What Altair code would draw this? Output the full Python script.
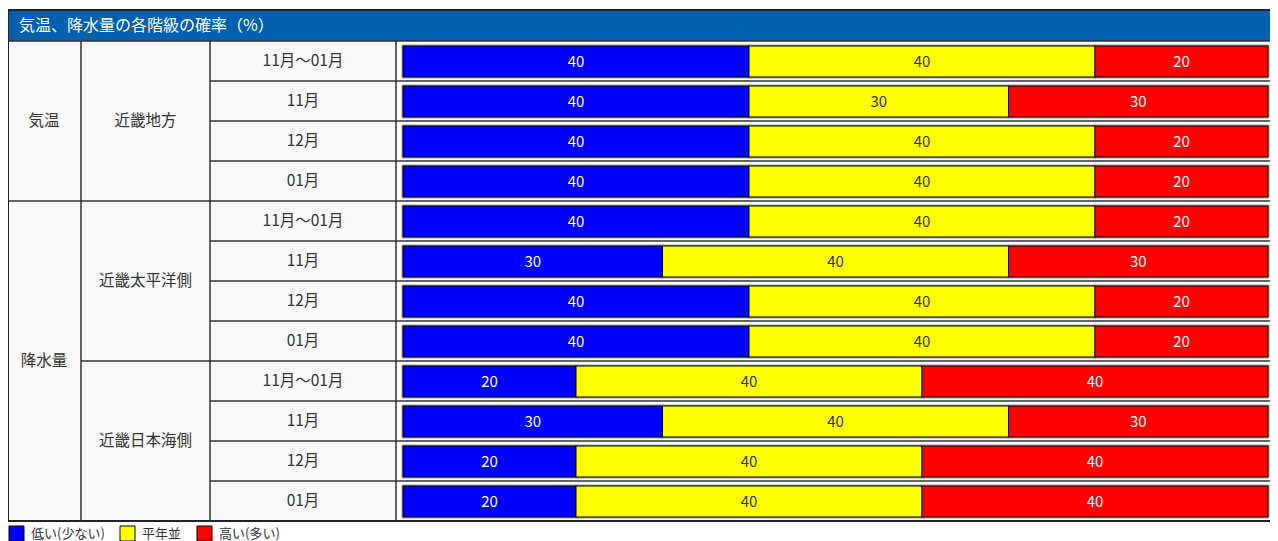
import altair as alt
import pandas as pd

# ---------------- data ----------------
title_text = "気温、降水量の各階級の確率（%）"
elements = ["気温", "降水量"]
element_rows = [4, 8]
regions = ["近畿地方", "近畿太平洋側", "近畿日本海側"]
periods = ["11月～01月", "11月", "12月", "01月"]
classes = ["低い(少ない)", "平年並", "高い(多い)"]
class_colors = ["#0000FF", "#FFFF00", "#FF0000"]
low = [40, 40, 40, 40, 40, 30, 40, 40, 20, 30, 20, 20]
normal = [40, 30, 40, 40, 40, 40, 40, 40, 40, 40, 40, 40]
high = [20, 30, 20, 20, 20, 30, 20, 20, 40, 30, 40, 40]

# ---------------- layout (pixel helpers) ----------------
BAR_X0 = 403
BAR_X1 = 1268
PX_PER_PCT = (BAR_X1 - BAR_X0) / 100
ROW_TOP = 41
ROW_H = 40
W, H = 1262, 533


def xv(px):
    return (px - BAR_X0) / PX_PER_PCT


def yv(py):
    return (py - ROW_TOP) / ROW_H


XS = alt.Scale(domain=[xv(8), xv(8 + W)], zero=False, nice=False)
YS = alt.Scale(domain=[yv(8), yv(8 + H)], zero=False, nice=False, reverse=True)
FONT = "Noto Sans CJK JP"
N = len(low)
XR = xv(8 + W)


def X(f):
    return alt.X(f, type="quantitative", scale=XS, axis=None)


def Y(f):
    return alt.Y(f, type="quantitative", scale=YS, axis=None)


# ---------------- bars ----------------
rows = []
for i in range(N):
    vals = [low[i], normal[i], high[i]]
    s = 0
    for k, v in enumerate(vals):
        rows.append(dict(row=i, cls=classes[k], start=s, end=s + v, mid=s + v / 2,
                         value=str(v), y=i + 0.125, y2=i + 0.9, ym=i + 0.52,
                         tcolor="#333333" if k == 1 else "#ffffff"))
        s += v
bars = pd.DataFrame(rows)
color = alt.Color("cls:N", scale=alt.Scale(domain=classes, range=class_colors), legend=None)

shadow = alt.Chart(bars).mark_rect(stroke="#a0a0a0", strokeWidth=3, fill="#a0a0a0").encode(
    x=X("start"), x2="end", y=Y("y"), y2="y2")
bar = alt.Chart(bars).mark_rect(stroke="#000000", strokeWidth=1).encode(
    x=X("start"), x2="end", y=Y("y"), y2="y2", color=color)
bar_text = alt.Chart(bars).mark_text(font=FONT, fontSize=15, align="center", baseline="middle").encode(
    x=X("mid"), y=Y("ym"), text="value:N", color=alt.Color("tcolor:N", scale=None))

# ---------------- table backgrounds ----------------
bg = pd.DataFrame([
    dict(x=xv(7), x2=xv(396), y=0, y2=N, c="#f8f8f8"),
    dict(x=xv(396), x2=XR, y=0, y2=N, c="#ffffff"),
    dict(x=xv(7), x2=XR, y=yv(10), y2=0, c="#0060b0"),
])
bg_layer = alt.Chart(bg).mark_rect().encode(
    x=X("x"), x2="x2", y=Y("y"), y2="y2", color=alt.Color("c:N", scale=None))

# ---------------- grid lines ----------------
lines = []
element_starts = [0, element_rows[0]]
region_starts = [0, 4, 8]
for r in range(0, N):
    if r in element_starts:
        x0 = xv(7)
    elif r in region_starts:
        x0 = xv(81)
    else:
        x0 = xv(210)
    lines.append(dict(x=x0, x2=XR, y=r, y2=r))
for px in [81, 210, 396]:
    lines.append(dict(x=xv(px), x2=xv(px), y=0, y2=N))
grid = alt.Chart(pd.DataFrame(lines)).mark_rule(color="#333333", strokeWidth=1.5).encode(
    x=X("x"), x2="x2", y=Y("y"), y2="y2")

border = pd.DataFrame([
    dict(x=xv(8), x2=xv(8), y=yv(10), y2=N),
    dict(x=xv(7), x2=XR, y=yv(10), y2=yv(10)),
    dict(x=xv(7), x2=XR, y=N, y2=N),
])
border_layer = alt.Chart(border).mark_rule(color="#222222", strokeWidth=2).encode(
    x=X("x"), x2="x2", y=Y("y"), y2="y2")

# ---------------- table texts ----------------
labels = []
r0 = 0
for e, n in zip(elements, element_rows):
    labels.append(dict(x=xv(44), y=r0 + n / 2, t=e))
    r0 += n
for j, reg in enumerate(regions):
    labels.append(dict(x=xv(145.5), y=j * 4 + 2, t=reg))
for i in range(N):
    labels.append(dict(x=xv(303), y=i + 0.5, t=periods[i % 4]))
label_layer = alt.Chart(pd.DataFrame(labels)).mark_text(
    font=FONT, fontSize=15.5, color="#333333", align="center", baseline="middle").encode(
    x=X("x"), y=Y("y"), text="t:N")

title_layer = alt.Chart(pd.DataFrame([dict(x=xv(19), y=yv(26), t=title_text)])).mark_text(
    font=FONT, fontSize=16, color="#ffffff", align="left", baseline="middle").encode(
    x=X("x"), y=Y("y"), text="t:N")

# ---------------- legend ----------------
leg_x = [9, 120, 197]
leg_df = pd.DataFrame([dict(cls=c, x=xv(px), x2=xv(px + 15), y=yv(526), y2=yv(541),
                            tx=xv(px + 22), ty=yv(533.5)) for c, px in zip(classes, leg_x)])
leg_rect = alt.Chart(leg_df).mark_rect(stroke="#000000", strokeWidth=1).encode(
    x=X("x"), x2="x2", y=Y("y"), y2="y2", color=color)
leg_text = alt.Chart(leg_df).mark_text(
    font=FONT, fontSize=13, color="#333333", align="left", baseline="middle").encode(
    x=X("tx"), y=Y("ty"), text="cls:N")

chart = alt.layer(
    bg_layer, shadow, bar, bar_text, grid, border_layer, label_layer, title_layer, leg_rect, leg_text
).properties(width=W, height=H, padding=0, autosize="none", background="#ffffff"
).configure_view(strokeWidth=0)

chart.save("out.html", embed_options={"renderer": "svg", "actions": False})
